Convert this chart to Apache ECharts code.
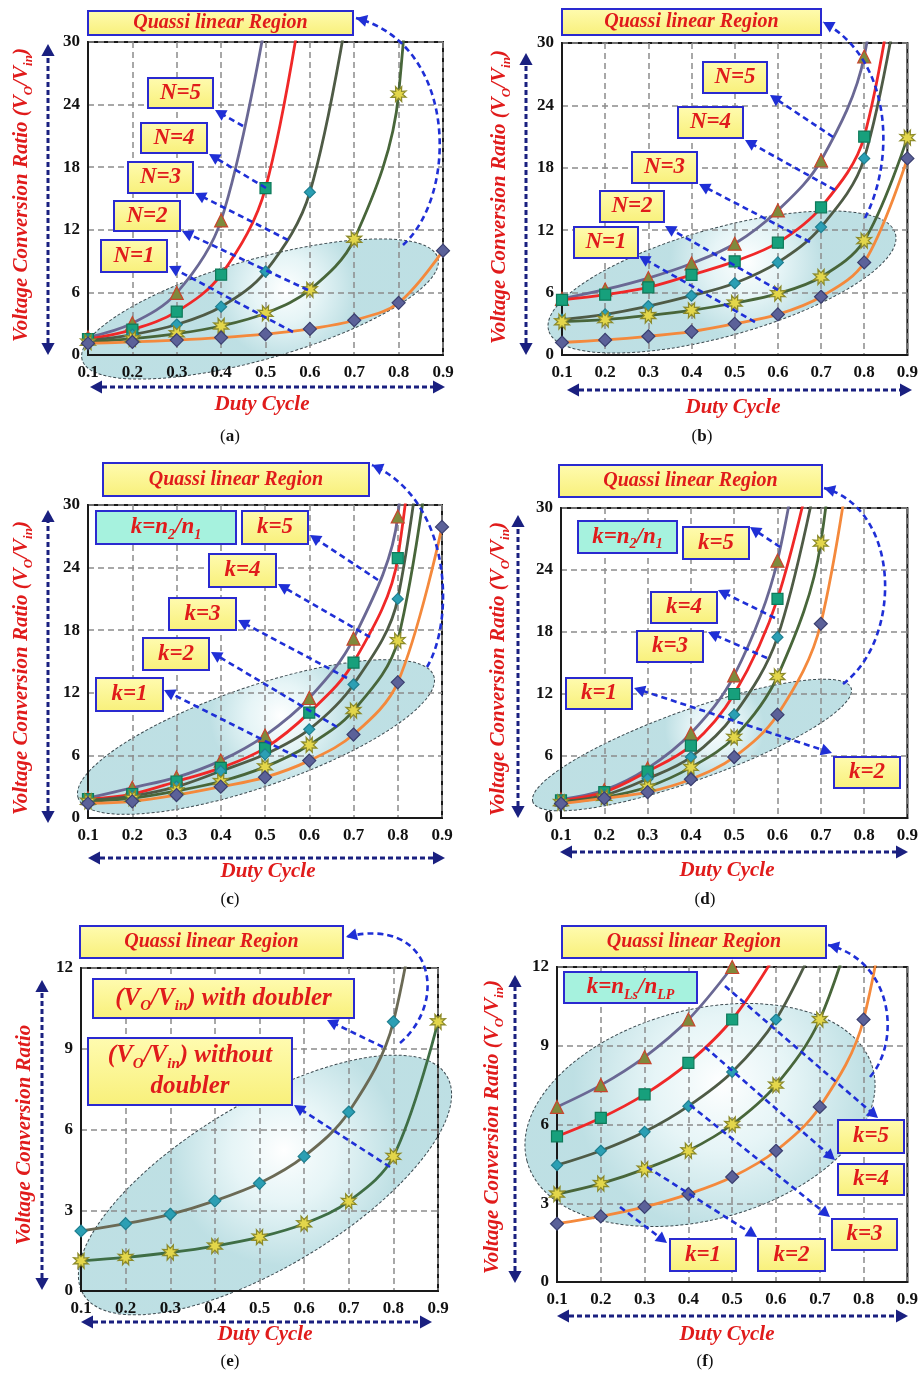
<!DOCTYPE html>
<html><head><meta charset="utf-8">
<script src="https://cdn.jsdelivr.net/npm/echarts@6/dist/echarts.min.js"></script>
<style>html,body{margin:0;padding:0;background:#fff}#c{width:921px;height:1375px}</style>
</head><body><div id="c"></div>
<script>
// ---------- data ----------
const duty = [0.1, 0.2, 0.3, 0.4, 0.5, 0.6, 0.7, 0.8, 0.9];
const xTickLabels = ['0.1','0.2','0.3','0.4','0.5','0.6','0.7','0.8','0.9'];
const yTicksHigh = [0, 6, 12, 18, 24, 30];
const yTicksLow = [0, 3, 6, 9, 12];

// (a) N = 1..5
const aN1 = [1.11, 1.25, 1.43, 1.67, 2.0, 2.5, 3.33, 5.0, 10.0];
const aN2 = [1.23, 1.56, 2.04, 2.78, 4.0, 6.25, 11.1, 25.0, 100];
const aN3 = [1.37, 1.95, 2.92, 4.63, 8.0, 15.6, 37.0];
const aN4 = [1.52, 2.44, 4.16, 7.7, 16.0, 39.0];
const aN5 = [1.69, 3.05, 5.95, 12.9, 32.0];
// (b) N = 1..5
const bN1 = [1.2, 1.45, 1.8, 2.25, 3.0, 3.9, 5.6, 8.9, 18.9];
const bN2 = [3.2, 3.4, 3.8, 4.3, 5.0, 5.9, 7.5, 11.0, 20.9];
const bN3 = [3.4, 3.9, 4.7, 5.7, 6.9, 8.9, 12.3, 18.9, 40];
const bN4 = [5.3, 5.8, 6.5, 7.7, 9.0, 10.8, 14.2, 21.0, 45];
const bN5 = [5.4, 6.3, 7.4, 8.8, 10.7, 13.9, 18.7, 28.7, 60];
// (c) k = 1..5
const cK1 = [1.4, 1.6, 2.2, 3.0, 3.9, 5.5, 8.0, 13.0, 27.9];
const cK2 = [1.6, 1.9, 2.6, 3.5, 4.9, 7.0, 10.3, 17.0, 45];
const cK3 = [1.7, 2.1, 3.0, 4.5, 6.1, 8.5, 12.8, 21.0, 55];
const cK4 = [1.8, 2.3, 3.5, 4.8, 6.7, 10.1, 14.9, 24.9, 70];
const cK5 = [1.9, 2.9, 3.9, 5.5, 7.9, 11.5, 17.2, 28.9, 90];
// (d) k = 1..5
const dK1 = [1.4, 1.9, 2.5, 3.75, 5.9, 10.0, 18.8, 45];
const dK2 = [1.5, 2.0, 3.0, 4.9, 7.8, 13.7, 26.6, 70];
const dK3 = [1.6, 2.2, 3.8, 5.9, 10.0, 17.5, 35];
const dK4 = [1.7, 2.5, 4.5, 7.0, 12.0, 21.2, 38];
const dK5 = [1.8, 2.7, 4.8, 8.2, 13.8, 24.9, 50];
// (e) with / without doubler
const eWith = [2.23, 2.5, 2.85, 3.35, 4.0, 5.0, 6.65, 10.0, 20.0];
const eWithout = [1.12, 1.25, 1.43, 1.67, 2.0, 2.5, 3.33, 5.0, 10.0];
// (f) k = 1..5
const fK1 = [2.22, 2.5, 2.86, 3.35, 4.0, 5.0, 6.67, 10.0, 20.0];
const fK2 = [3.35, 3.75, 4.3, 5.0, 6.0, 7.5, 10.0, 15.0];
const fK3 = [4.45, 5.0, 5.72, 6.7, 8.0, 10.0, 13.3];
const fK4 = [5.55, 6.25, 7.15, 8.35, 10.0, 12.5];
const fK5 = [6.67, 7.5, 8.57, 10.0, 12.0];

// ---------- styles ----------
const SERIF = "'Liberation Serif','DejaVu Serif',serif";
const RED = '#e01b1b';
const BLUE = '#1f2fd6';
const NAVY = '#1a2080';
function starPath() {
  let d = '';
  for (let k = 0; k < 16; k++) {
    const a = k * Math.PI / 8 + Math.PI / 8;
    const r = k % 2 === 0 ? 10 : 5;
    const x = (10 + r * Math.cos(a)).toFixed(2), y = (10 + r * Math.sin(a)).toFixed(2);
    d += (k === 0 ? 'M' : 'L') + x + ' ' + y + ' ';
  }
  return 'path://' + d + 'Z';
}
const STAR = starPath();
const STY = {
  1: {line: '#f4893c', symbol: 'diamond', size: 13, fill: '#5b6199', border: '#3b3f70'},
  2: {line: '#48663a', symbol: STAR, size: 15, fill: '#e3d64a', border: '#8c8a2a'},
  3: {line: '#4f5b46', symbol: 'diamond', size: 11, fill: '#2b9fb4', border: '#1f7f90'},
  4: {line: '#f02828', symbol: 'rect', size: 11, fill: '#17a07c', border: '#0e7a5a'},
  5: {line: '#6a6894', symbol: 'triangle', size: 13, fill: '#7e8a3c', border: '#c8452c'},
  W: {line: '#6b6a55', symbol: 'diamond', size: 12, fill: '#2b9fb4', border: '#1f7f90'},
  O: {line: '#3f6e45', symbol: STAR, size: 15, fill: '#e3d64a', border: '#8c8a2a'}
};

const panels = [
  {grid: {left: 88, top: 42, width: 355, height: 313}, yTicks: yTicksHigh,
   series: [[aN5, 5], [aN4, 4], [aN3, 3], [aN2, 2], [aN1, 1]]},
  {grid: {left: 562, top: 43, width: 347, height: 312}, yTicks: yTicksHigh,
   series: [[bN5, 5], [bN4, 4], [bN3, 3], [bN2, 2], [bN1, 1]]},
  {grid: {left: 88, top: 505, width: 354, height: 313}, yTicks: yTicksHigh,
   series: [[cK5, 5], [cK4, 4], [cK3, 3], [cK2, 2], [cK1, 1]]},
  {grid: {left: 561, top: 508, width: 350, height: 310}, yTicks: yTicksHigh,
   series: [[dK5, 5], [dK4, 4], [dK3, 3], [dK2, 2], [dK1, 1]]},
  {grid: {left: 81, top: 968, width: 357, height: 323}, yTicks: yTicksLow,
   series: [[eWith, 'W'], [eWithout, 'O']]},
  {grid: {left: 557, top: 967, width: 353, height: 315}, yTicks: yTicksLow,
   series: [[fK5, 5], [fK4, 4], [fK3, 3], [fK2, 2], [fK1, 1]]}
];

const option = {backgroundColor: '#fff', animation: false, grid: [], xAxis: [], yAxis: [], series: [], graphic: []};
const tickFont = {color: '#111', fontFamily: SERIF, fontWeight: 'bold', fontSize: 17};
panels.forEach((p, i) => {
  option.grid.push(Object.assign({show: true, z: 4, borderColor: '#1a1a1a', borderWidth: 2, backgroundColor: 'rgba(0,0,0,0)'}, p.grid));
  option.xAxis.push({
    type: 'value', gridIndex: i, z: 4, min: duty[0], max: duty[duty.length - 1], interval: 0.1,
    axisLine: {show: true, onZero: false, lineStyle: {color: '#1a1a1a', width: 2}},
    axisTick: {show: false},
    splitLine: {show: true, lineStyle: {color: '#8c8c8c', width: 1.5, type: [6, 4]}},
    axisLabel: Object.assign({margin: 9, showMinLabel: true, showMaxLabel: true,
      formatter: v => xTickLabels[Math.round((v - duty[0]) * 10)]}, tickFont)
  });
  option.yAxis.push({
    type: 'value', gridIndex: i, z: 4, min: p.yTicks[0], max: p.yTicks[p.yTicks.length - 1],
    interval: p.yTicks[1] - p.yTicks[0],
    axisLine: {show: true, onZero: false, lineStyle: {color: '#1a1a1a', width: 2}},
    axisTick: {show: false},
    splitLine: {show: true, lineStyle: {color: '#8c8c8c', width: 1.5, type: [6, 4]}},
    axisLabel: Object.assign({margin: 8, showMinLabel: true, showMaxLabel: true}, tickFont)
  });
  p.series.forEach(([vals, key]) => {
    const s = STY[key];
    option.series.push({
      type: 'line', xAxisIndex: i, yAxisIndex: i, smooth: 0.35, clip: true, z: 6,
      data: vals.map((v, j) => [duty[j], v]),
      symbol: s.symbol, symbolSize: s.size,
      lineStyle: {color: s.line, width: 2.8},
      itemStyle: {color: s.fill, borderColor: s.border, borderWidth: 1.2}
    });
  });
});

// ---------- annotations ----------
const G = option.graphic;
function head(x, y, ang, size, color) {
  const w = size * 0.55;
  const bx = x - size * Math.cos(ang), by = y - size * Math.sin(ang);
  const px = -Math.sin(ang) * w, py = Math.cos(ang) * w;
  G.push({type: 'polygon', z: 20, shape: {points: [[x, y], [bx + px, by + py], [bx - px, by - py]]}, style: {fill: color}});
}
function arrow(x1, y1, x2, y2, both) {
  const ang = Math.atan2(y2 - y1, x2 - x1), s = 11;
  const ex = x2 - s * 0.8 * Math.cos(ang), ey = y2 - s * 0.8 * Math.sin(ang);
  let sx = x1, sy = y1;
  if (both) { sx = x1 + s * 0.8 * Math.cos(ang); sy = y1 + s * 0.8 * Math.sin(ang); }
  G.push({type: 'line', z: 20, shape: {x1: sx, y1: sy, x2: ex, y2: ey}, style: {stroke: BLUE, lineWidth: 2.6, lineDash: [6, 4]}});
  head(x2, y2, ang, s, BLUE);
  if (both) head(x1, y1, ang + Math.PI, s, BLUE);
}
function curveArrow(p0, p1, p2, p3) {
  G.push({type: 'bezierCurve', z: 20, shape: {x1: p0[0], y1: p0[1], cpx1: p1[0], cpy1: p1[1], cpx2: p2[0], cpy2: p2[1], x2: p3[0], y2: p3[1]},
    style: {stroke: BLUE, lineWidth: 2.6, lineDash: [6, 4], fill: null}});
  head(p3[0], p3[1], Math.atan2(p3[1] - p2[1], p3[0] - p2[0]), 11, BLUE);
}
function axisArrow(x1, y1, x2, y2) {
  const ang = Math.atan2(y2 - y1, x2 - x1), s = 12;
  G.push({type: 'line', z: 20, shape: {x1: x1 + s * Math.cos(ang), y1: y1 + s * Math.sin(ang), x2: x2 - s * Math.cos(ang), y2: y2 - s * Math.sin(ang)},
    style: {stroke: NAVY, lineWidth: 3, lineDash: [5, 3]}});
  head(x2, y2, ang, s, NAVY);
  head(x1, y1, ang + Math.PI, s, NAVY);
}
const richBase = {fontFamily: SERIF, fontStyle: 'italic', fontWeight: 'bold', fill: RED};
function richText(size) {
  return {
    m: Object.assign({fontSize: size, lineHeight: size + 6}, richBase),
    s: Object.assign({fontSize: Math.round(size * 0.6), lineHeight: Math.round(size * 0.6) + 1, verticalAlign: 'bottom'}, richBase)
  };
}
function box(x1, y1, x2, y2, text, fill, size) {
  G.push({type: 'rect', z: 15, shape: {x: x1, y: y1, width: x2 - x1, height: y2 - y1},
    style: {fill: fill, stroke: '#2a2ad0', lineWidth: 2}});
  G.push({type: 'text', z: 16, x: (x1 + x2) / 2, y: (y1 + y2) / 2,
    style: {text: text, rich: richText(size), align: 'center', verticalAlign: 'middle',
      fontFamily: SERIF, fontStyle: 'italic', fontWeight: 'bold', fontSize: size, fill: RED}});
}
const YEL = {type: 'linear', x: 0, y: 0, x2: 0, y2: 1, colorStops: [{offset: 0, color: '#fffbb0'}, {offset: 1, color: '#f8f07a'}]};
const CYAN = '#a6f2de';
function ellipse(cx, cy, rx, ry, deg) {
  G.push({type: 'ellipse', z: 1, x: cx, y: cy, rotation: deg * Math.PI / 180,
    shape: {cx: 0, cy: 0, rx: rx, ry: ry},
    style: {fill: {type: 'radial', x: 0.58, y: 0.38, r: 0.7, colorStops: [
      {offset: 0, color: 'rgba(255,255,255,0.75)'}, {offset: 0.45, color: 'rgba(214,238,241,0.6)'}, {offset: 1, color: 'rgba(150,204,211,0.62)'}]},
      stroke: '#3c4a50', lineWidth: 1, lineDash: [3, 2]}});
}
function yTitle(x, y, withRatio) {
  const t = withRatio ? '{m|Voltage Conversion Ratio (V}{s|O}{m|/V}{s|in}{m|)}' : '{m|Voltage Conversion Ratio}';
  G.push({type: 'text', z: 16, x: x, y: y, rotation: Math.PI / 2,
    style: {text: t, rich: richText(21), align: 'center', verticalAlign: 'middle'}});
}
function xTitle(x, y) {
  G.push({type: 'text', z: 16, x: x, y: y, style: {text: 'Duty Cycle', align: 'center', verticalAlign: 'middle',
    fontFamily: SERIF, fontStyle: 'italic', fontWeight: 'bold', fontSize: 21, fill: RED}});
}
function caption(x, y, letter) {
  G.push({type: 'text', z: 16, x: x, y: y, style: {text: '{n|(}{b|' + letter + '}{n|)}', align: 'center', verticalAlign: 'middle',
    rich: {n: {fontFamily: SERIF, fontSize: 17, fill: '#111'}, b: {fontFamily: SERIF, fontSize: 17, fontWeight: 'bold', fill: '#111'}}}});
}
const Q = '{m|Quassi linear Region}';
const lab = t => '{m|' + t + '}';
const QS = 20;

// panel (a)
ellipse(260, 309, 185, 50, 16);
box(88, 11, 353, 35, Q, YEL, QS);
[['N=5', 148, 78, 213, 108], ['N=4', 141, 123, 207, 153], ['N=3', 128, 162, 193, 193], ['N=2', 114, 201, 180, 231], ['N=1', 101, 240, 167, 272]]
  .forEach(b => box(b[1], b[2], b[3], b[4], lab(b[0]), YEL, 23));
arrow(243, 126, 215, 110); arrow(266, 188, 209, 154); arrow(288, 240, 195, 193); arrow(308, 290, 182, 231); arrow(293, 332, 169, 266);
curveArrow([403, 245], [458, 195], [458, 45], [356, 18]);
axisArrow(48, 355, 48, 44); axisArrow(90, 387, 445, 387);
yTitle(22, 195, true); xTitle(262, 405); caption(230, 437, 'a');

// panel (b)
ellipse(722, 282, 180, 54, 15.6);
box(562, 9, 821, 35, Q, YEL, QS);
[['N=5', 703, 62, 767, 93], ['N=4', 678, 107, 743, 138], ['N=3', 632, 152, 697, 183], ['N=2', 600, 191, 664, 222], ['N=1', 574, 227, 638, 258]]
  .forEach(b => box(b[1], b[2], b[3], b[4], lab(b[0]), YEL, 23));
arrow(833, 137, 770, 95); arrow(835, 190, 745, 140); arrow(810, 242, 699, 184); arrow(778, 290, 665, 226); arrow(755, 322, 639, 256);
curveArrow([865, 218], [895, 160], [893, 60], [823, 22]);
axisArrow(526, 355, 526, 53); axisArrow(567, 390, 912, 390);
yTitle(500, 197, true); xTitle(733, 408); caption(702, 437, 'b');

// panel (c)
ellipse(256, 737, 188, 50, 19);
box(103, 463, 369, 496, Q, YEL, QS);
box(96, 511, 236, 544, '{m|k=n}{s|2}{m|/n}{s|1}', CYAN, 23);
[['k=5', 242, 511, 308, 544], ['k=4', 209, 554, 276, 587], ['k=3', 169, 598, 236, 630], ['k=2', 143, 638, 209, 670], ['k=1', 96, 678, 163, 711]]
  .forEach(b => box(b[1], b[2], b[3], b[4], lab(b[0]), YEL, 23));
arrow(378, 580, 310, 535); arrow(370, 637, 278, 584); arrow(347, 678, 238, 620); arrow(337, 727, 211, 652); arrow(297, 757, 164, 690);
curveArrow([427, 667], [455, 620], [452, 500], [372, 465]);
axisArrow(48, 823, 48, 510); axisArrow(88, 858, 445, 858);
yTitle(22, 668, true); xTitle(268, 872); caption(230, 900, 'c');

// panel (d)
ellipse(692, 745, 169, 35, 19.7);
box(559, 465, 822, 497, Q, YEL, QS);
box(578, 521, 677, 553, '{m|k=n}{s|2}{m|/n}{s|1}', CYAN, 23);
[['k=5', 683, 527, 749, 559], ['k=4', 651, 592, 717, 623], ['k=3', 637, 631, 703, 662], ['k=1', 566, 678, 632, 709], ['k=2', 834, 757, 900, 788]]
  .forEach(b => box(b[1], b[2], b[3], b[4], lab(b[0]), YEL, 23));
arrow(780, 547, 750, 527); arrow(775, 618, 718, 590); arrow(767, 658, 708, 632); arrow(634, 688, 832, 753, true);
curveArrow([843, 684], [902, 640], [902, 510], [824, 488]);
axisArrow(518, 818, 518, 515); axisArrow(560, 852, 908, 852);
yTitle(499, 669, true); xTitle(727, 871); caption(705, 900, 'd');

// panel (e)
ellipse(265, 1185, 212, 82, 31);
box(80, 926, 343, 958, Q, YEL, QS);
box(93, 979, 354, 1018, '{m|(V}{s|O}{m|/V}{s|in}{m|) with doubler}', YEL, 25);
box(88, 1038, 292, 1105, '{m|(V}{s|O}{m|/V}{s|in}{m|) without}\n{m|doubler}', YEL, 25);
arrow(383, 1047, 327, 1020); arrow(390, 1167, 294, 1105);
curveArrow([400, 1043], [450, 1000], [432, 915], [346, 937]);
axisArrow(42, 1290, 42, 980); axisArrow(81, 1322, 432, 1322);
yTitle(25, 1135, false); xTitle(265, 1335); caption(230, 1362, 'e');

// panel (f)
ellipse(700, 1115, 179, 105, 15);
box(562, 926, 826, 958, Q, YEL, QS);
box(564, 972, 697, 1003, '{m|k=n}{s|Ls}{m|/n}{s|LP}', CYAN, 23);
[['k=5', 838, 1120, 904, 1153], ['k=4', 838, 1164, 904, 1195], ['k=3', 832, 1219, 897, 1250], ['k=2', 758, 1239, 825, 1271], ['k=1', 670, 1239, 736, 1271]]
  .forEach(b => box(b[1], b[2], b[3], b[4], lab(b[0]), YEL, 23));
arrow(725, 986, 878, 1118); arrow(705, 1047, 835, 1160); arrow(690, 1105, 830, 1217); arrow(647, 1167, 757, 1237); arrow(620, 1207, 667, 1243);
curveArrow([870, 1077], [902, 1040], [892, 960], [828, 945]);
axisArrow(515, 1283, 515, 975); axisArrow(557, 1316, 908, 1316);
yTitle(493, 1127, true); xTitle(727, 1335); caption(705, 1362, 'f');

const chart = echarts.init(document.getElementById('c'), null, {renderer: 'canvas'});
chart.setOption(option);
</script>
</body></html>
